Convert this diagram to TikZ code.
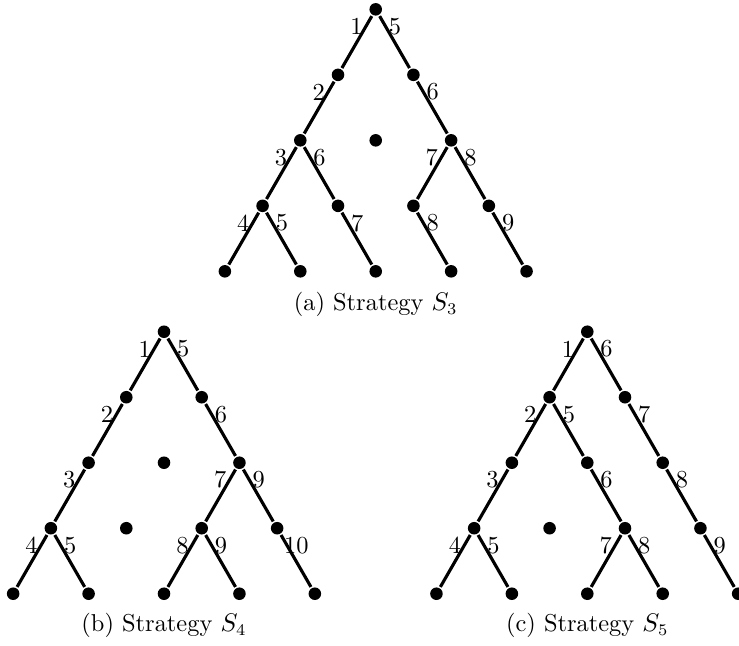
\documentclass[tikz,border=0pt]{standalone}
\usepackage{tikz}

\begin{document}
\begin{tikzpicture}[every node/.style={circle, fill=black, inner sep=0pt, minimum size=5.4pt,
    font=\fontsize{10.5pt}{12.6pt}\selectfont},
  line width=1.35pt,
  lft/.style={draw=none, fill=none, xshift=-8.3pt, yshift=-7.4pt},
  rgt/.style={draw=none, fill=none, xshift=8.3pt, yshift=-7.4pt},
  caption/.style={draw=none, fill=none, anchor=base}]

\useasboundingbox (0,0) rectangle (11.17,-9.75);

%% (a) Strategy S_3
\begin{scope}[shift={(5.679,-0.141)}, x=0.57cm, y=0.99cm]

% Nodes
\node (a0) at (0,0) {};
\node (a1) at (-1,-1) {};
\node (a2) at (1,-1) {};
\node (a3) at (-2,-2) {};
\node (a4) at (0,-2) {};
\node (a5) at (2,-2) {};
\node (a6) at (-3,-3) {};
\node (a7) at (-1,-3) {};
\node (a8) at (1,-3) {};
\node (a9) at (3,-3) {};
\node (a10) at (-4,-4) {};
\node (a11) at (-2,-4) {};
\node (a12) at (0,-4) {};
\node (a13) at (2,-4) {};
\node (a14) at (4,-4) {};

% Edges
\draw (a0) -- (a1);
\draw (a1) -- (a3);
\draw (a3) -- (a6);
\draw (a6) -- (a10);
\draw (a6) -- (a11);
\draw (a3) -- (a7);
\draw (a7) -- (a12);

\draw (a0) -- (a2);
\draw (a2) -- (a5);
\draw (a5) -- (a8);
\draw (a8) -- (a13);
\draw (a5) -- (a9);
\draw (a9) -- (a14);

% Labels
\node[lft] at (a0) {1};
\node[rgt] at (a0) {5};
\node[lft] at (a1) {2};
\node[rgt] at (a2) {6};
\node[lft] at (a3) {3};
\node[rgt] at (a3) {6};
\node[lft] at (a5) {7};
\node[rgt] at (a5) {8};
\node[lft] at (a6) {4};
\node[rgt] at (a6) {5};
\node[rgt] at (a7) {7};
\node[rgt] at (a8) {8};
\node[rgt] at (a9) {9};

\node[caption] (capa) at (0,-4.6) {(a) Strategy $S_3$};
\end{scope}

%% (b) Strategy S_4
\begin{scope}[shift={(2.479,-5.014)}, x=0.57cm, y=0.99cm]

% Nodes
\node (b0) at (0,0) {};
\node (b1) at (-1,-1) {};
\node (b2) at (1,-1) {};
\node (b3) at (-2,-2) {};
\node (b4) at (0,-2) {};
\node (b5) at (2,-2) {};
\node (b6) at (-3,-3) {};
\node (b7) at (-1,-3) {};
\node (b8) at (1,-3) {};
\node (b9) at (3,-3) {};
\node (b10) at (-4,-4) {};
\node (b11) at (-2,-4) {};
\node (b12) at (0,-4) {};
\node (b13) at (2,-4) {};
\node (b14) at (4,-4) {};

% Edges
\draw (b0) -- (b1);
\draw (b1) -- (b3);
\draw (b3) -- (b6);
\draw (b6) -- (b10);
\draw (b6) -- (b11);

\draw (b0) -- (b2);
\draw (b2) -- (b5);
\draw (b5) -- (b8);
\draw (b8) -- (b12);
\draw (b8) -- (b13);
\draw (b5) -- (b9);
\draw (b9) -- (b14);

% Labels
\node[lft] at (b0) {1};
\node[rgt] at (b0) {5};
\node[lft] at (b1) {2};
\node[rgt] at (b2) {6};
\node[lft] at (b3) {3};
\node[lft] at (b5) {7};
\node[rgt] at (b5) {9};
\node[lft] at (b6) {4};
\node[rgt] at (b6) {5};
\node[lft] at (b8) {8};
\node[rgt] at (b8) {9};
\node[rgt] at (b9) {10};

\node[caption] (capb) at (0,-4.58) {(b) Strategy $S_4$};
\end{scope}

%% (c) Strategy S_5
\begin{scope}[shift={(8.877,-5.014)}, x=0.57cm, y=0.99cm]

% Nodes
\node (c0) at (0,0) {};
\node (c1) at (-1,-1) {};
\node (c2) at (1,-1) {};
\node (c3) at (-2,-2) {};
\node (c4) at (0,-2) {};
\node (c5) at (2,-2) {};
\node (c6) at (-3,-3) {};
\node (c7) at (-1,-3) {};
\node (c8) at (1,-3) {};
\node (c9) at (3,-3) {};
\node (c10) at (-4,-4) {};
\node (c11) at (-2,-4) {};
\node (c12) at (0,-4) {};
\node (c13) at (2,-4) {};
\node (c14) at (4,-4) {};

% Edges
\draw (c0) -- (c1);
\draw (c1) -- (c3);
\draw (c3) -- (c6);
\draw (c6) -- (c10);
\draw (c6) -- (c11);
\draw (c1) -- (c4);
\draw (c4) -- (c8);
\draw (c8) -- (c12);
\draw (c8) -- (c13);

\draw (c0) -- (c2);
\draw (c2) -- (c5);
\draw (c5) -- (c9);
\draw (c9) -- (c14);

% Labels
\node[lft] at (c0) {1};
\node[rgt] at (c0) {6};
\node[lft] at (c1) {2};
\node[rgt] at (c1) {5};
\node[rgt] at (c2) {7};
\node[lft] at (c3) {3};
\node[rgt] at (c4) {6};
\node[rgt] at (c5) {8};
\node[lft] at (c6) {4};
\node[rgt] at (c6) {5};
\node[lft] at (c8) {7};
\node[rgt] at (c8) {8};
\node[rgt] at (c9) {9};

\node[caption] (capc) at (0,-4.58) {(c) Strategy $S_5$};
\end{scope}

\end{tikzpicture}
\end{document}
